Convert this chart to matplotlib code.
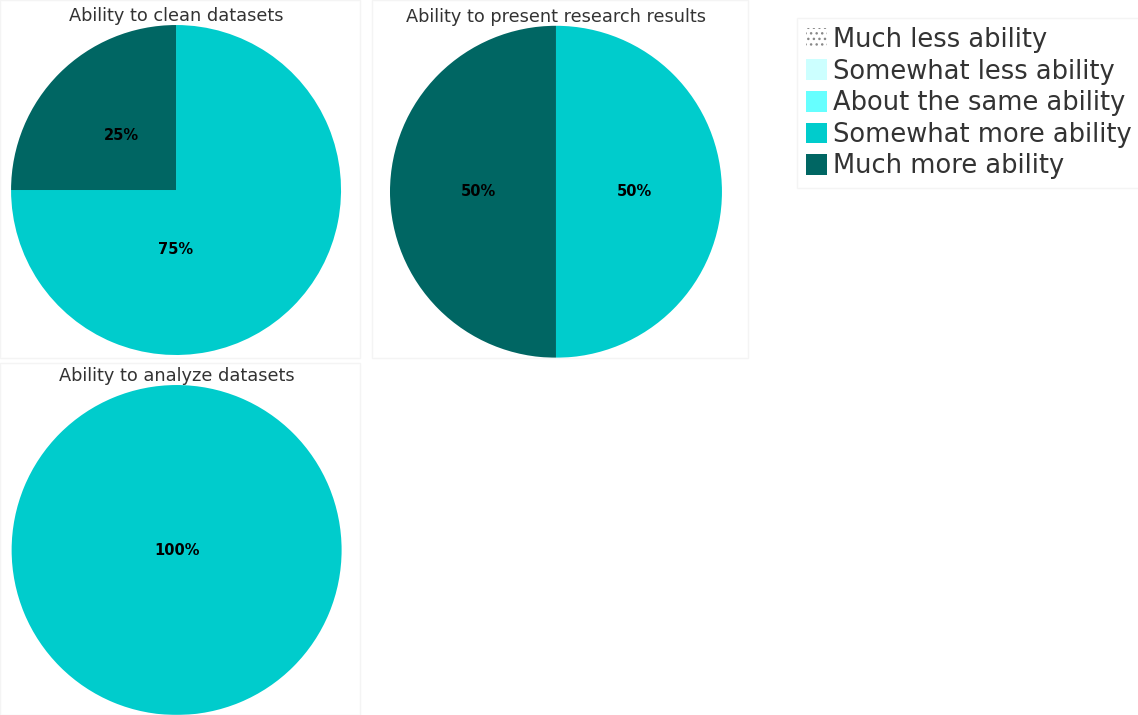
import matplotlib.pyplot as plt
from matplotlib.patches import Patch, Rectangle

plt.rcParams['font.family'] = ['DejaVu Sans']
plt.rcParams['hatch.color'] = '#888888'
plt.rcParams['hatch.linewidth'] = 1.0

# ==========================================
# DATA
# ==========================================

categories = [
    'Much less ability',
    'Somewhat less ability',
    'About the same ability',
    'Somewhat more ability',
    'Much more ability'
]

titles = [
    'Ability to clean datasets',
    'Ability to present research results',
    'Ability to analyze datasets'
]

clean_values = [0, 0, 0, 75, 25]
present_values = [0, 0, 0, 50, 50]
analyze_values = [0, 0, 0, 100, 0]

colors = ['#ffffff', '#ccffff', '#66ffff', '#00cccc', '#006663']
hatches = ['...', None, None, None, None]

# ==========================================
# FIGURE
# ==========================================

fig = plt.figure(figsize=(11.38, 7.15), dpi=100)

# faint panel borders
for (x0, y0, w, h) in [(0.0, 0.5, 0.316, 0.5), (0.327, 0.5, 0.33, 0.5), (0.0, 0.0, 0.316, 0.493)]:
    fig.patches.append(Rectangle((x0, y0), w, h, transform=fig.transFigure,
                                 fill=False, edgecolor='#f4f4f4', linewidth=1))

axes_pos = [
    [0.0097, 0.5035, 0.290, 0.4615],
    [0.3427, 0.4993, 0.2917, 0.4650],
    [0.0097, 0.0, 0.2910, 0.4615]
]

all_values = [clean_values, present_values, analyze_values]

for pos, title, values in zip(axes_pos, titles, all_values):
    ax = fig.add_axes(pos)
    vals = [v for v in values if v > 0]
    cols = [c for v, c in zip(values, colors) if v > 0]
    wedges, texts, autotexts = ax.pie(
        vals,
        colors=cols,
        startangle=90,
        counterclock=False,
        autopct='%d%%',
        pctdistance=0.47,
        wedgeprops={'linewidth': 0},
        textprops={'fontsize': 10.5, 'fontweight': 'bold', 'color': 'black'}
    )
    # label placement of the source tool: single slice in the middle,
    # slices larger than half sit straight below the centre
    for v, t in zip(vals, autotexts):
        if v == 100:
            t.set_position((0, 0))
        elif v > 50:
            t.set_position((0, -0.36))
    ax.set_xlim(-1, 1)
    ax.set_ylim(-1, 1)
    ax.set_aspect('equal')
    ax.set_title(title, fontsize=12.8, color='#333333', pad=-3.5)

# ==========================================
# LEGEND
# ==========================================

handles = []
for c, h in zip(colors, hatches):
    if h:
        handles.append(Patch(facecolor='white', edgecolor='#888888', hatch=h, linewidth=0))
    else:
        handles.append(Patch(facecolor=c, edgecolor=c, linewidth=0))

leg = fig.legend(
    handles, categories,
    loc='upper left',
    bbox_to_anchor=(0.7, 0.975),
    fontsize=18.5,
    frameon=True,
    fancybox=False,
    handlelength=0.85,
    handleheight=0.85,
    handletextpad=0.2,
    labelspacing=0.22,
    borderpad=0.35,
    borderaxespad=0
)
leg.get_frame().set_edgecolor('#f2f2f2')
for t in leg.get_texts():
    t.set_color('#333333')

plt.savefig('out.png', dpi=100)
